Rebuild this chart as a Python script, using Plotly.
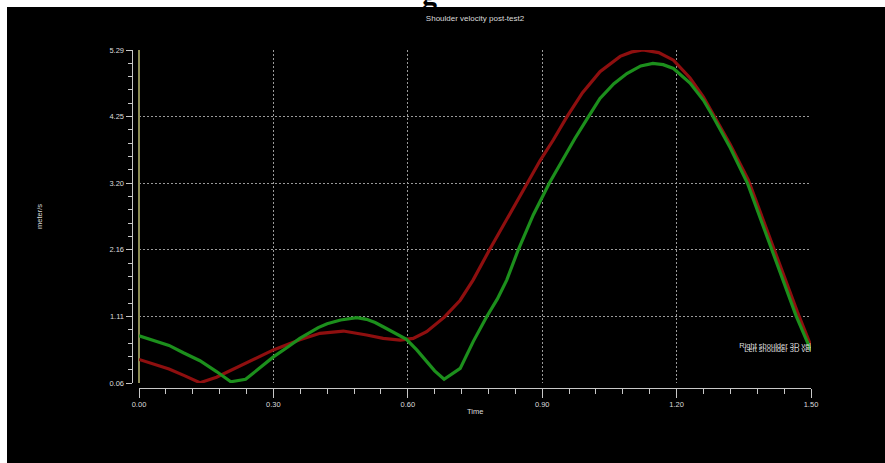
import plotly.graph_objects as go

# Shoulder velocity samples (time in s, speed in m/s)
right_t = [0.000, 0.033, 0.067, 0.100, 0.136, 0.173, 0.205, 0.240, 0.270, 0.300,
           0.333, 0.359, 0.404, 0.456, 0.508, 0.545, 0.583, 0.612, 0.642, 0.681,
           0.717, 0.746, 0.783, 0.825, 0.867, 0.895, 0.925, 0.955, 0.990, 1.029,
           1.074, 1.100, 1.125, 1.160, 1.193, 1.230, 1.260, 1.282, 1.320, 1.360,
           1.387, 1.415, 1.443, 1.470, 1.500]
right_v = [0.43, 0.36, 0.28, 0.18, 0.065, 0.15, 0.26, 0.37, 0.48, 0.58,
           0.67, 0.74, 0.84, 0.876, 0.814, 0.76, 0.735, 0.76, 0.866, 1.09,
           1.36, 1.68, 2.16, 2.68, 3.20, 3.55, 3.88, 4.24, 4.62, 4.95,
           5.19, 5.26, 5.29, 5.25, 5.13, 4.85, 4.55, 4.27, 3.80, 3.25,
           2.74, 2.22, 1.69, 1.17, 0.64]

left_t = [0.000, 0.033, 0.067, 0.099, 0.136, 0.173, 0.205, 0.238, 0.270, 0.300,
          0.333, 0.359, 0.400, 0.420, 0.450, 0.486, 0.508, 0.527, 0.545, 0.565,
          0.583, 0.597, 0.620, 0.642, 0.660, 0.681, 0.717, 0.746, 0.776, 0.800,
          0.821, 0.847, 0.880, 0.916, 0.947, 0.973, 1.003, 1.029, 1.060, 1.089,
          1.120, 1.147, 1.170, 1.193, 1.230, 1.260, 1.281, 1.320, 1.358, 1.385,
          1.412, 1.440, 1.467, 1.500]
left_v = [0.80, 0.73, 0.65, 0.535, 0.41, 0.24, 0.08, 0.118, 0.30, 0.47,
          0.63, 0.76, 0.93, 0.99, 1.05, 1.085, 1.06, 1.01, 0.944, 0.87,
          0.81, 0.746, 0.58, 0.39, 0.25, 0.118, 0.29, 0.71, 1.10, 1.38,
          1.68, 2.16, 2.70, 3.20, 3.59, 3.90, 4.24, 4.53, 4.76, 4.92,
          5.04, 5.08, 5.06, 5.00, 4.77, 4.50, 4.25, 3.75, 3.20, 2.68,
          2.16, 1.63, 1.11, 0.57]

series_names = ["Right shoulder 3D vel", "Left shoulder 3D vel"]
series_colors = ["#8e0f0f", "#1c8f1c"]

x_ticks = [0.00, 0.30, 0.60, 0.90, 1.20, 1.50]
x_tick_text = ["0.00", "0.30", "0.60", "0.90", "1.20", "1.50"]
y_ticks = [0.06, 1.11, 2.16, 3.20, 4.25, 5.29]
y_tick_text = ["0.06", "1.11", "2.16", "3.20", "4.25", "5.29"]

W, H = 885, 463
ML, MR, MT, MB = 100, 40, 40, 60
PW, PH = W - ML - MR, H - MT - MB


def fx(px):
    return (px - ML) / PW


def fy(py):
    return (H - MB - py) / PH


FONT = "Liberation Sans"
TXT = "#dcdcdc"
GRID = "#9a9a9a"

fig = go.Figure()
for t, v, name, col in [(right_t, right_v, series_names[0], series_colors[0]),
                        (left_t, left_v, series_names[1], series_colors[1])]:
    fig.add_trace(go.Scatter(x=t, y=v, mode="lines", name=name,
                             line=dict(color=col, width=3.2)))
# end-of-line labels
for t, v, name in [(right_t, right_v, series_names[0]),
                   (left_t, left_v, series_names[1])]:
    fig.add_trace(go.Scatter(x=[t[-1]], y=[v[-1]], mode="text", text=[name],
                             textposition="middle left", cliponaxis=True,
                             textfont=dict(family=FONT, size=7.5, color=TXT),
                             showlegend=False, hoverinfo="skip"))

axis_common = dict(
    showline=True, linecolor="#c8c8c8", linewidth=1,
    ticks="outside", tickcolor="#c8c8c8", tickwidth=1,
    tickfont=dict(family=FONT, size=7.5, color=TXT),
    showgrid=True, gridcolor=GRID, gridwidth=1, griddash="2px,2px",
    anchor="free",
)

# white strip along the top and left edges of the page
edge = dict(type="rect", xref="paper", yref="paper", layer="below",
            fillcolor="white", line=dict(width=0))

fig.update_layout(
    width=W, height=H,
    margin=dict(l=ML, r=MR, t=MT, b=MB),
    paper_bgcolor="black", plot_bgcolor="black",
    showlegend=False,
    title=dict(text="Shoulder velocity post-test2", xref="paper", yref="container",
               x=fx(475), y=1 - 18 / H, xanchor="center", yanchor="middle",
               font=dict(family=FONT, size=8, color=TXT)),
    xaxis=dict(axis_common, range=[0, 1.5], domain=[fx(139), fx(811)],
               position=fy(387.7), tickvals=x_ticks, ticktext=x_tick_text,
               ticklen=9, zeroline=True, zerolinecolor="#8c8c55", zerolinewidth=1.5,
               minor=dict(ticks="outside", dtick=0.06, tick0=0, ticklen=5,
                          tickcolor="#c8c8c8", showgrid=False)),
    yaxis=dict(axis_common, range=[0.06, 5.29], domain=[fy(383), fy(50)],
               position=fx(131.5), tickvals=y_ticks, ticktext=y_tick_text,
               ticklen=6, zeroline=False,
               minor=dict(ticks="outside", dtick=(5.29 - 0.06) / 25, tick0=0.06,
                          ticklen=3.5, tickcolor="#c8c8c8", showgrid=False)),
    shapes=[
        dict(edge, x0=fx(-5), x1=fx(W + 5), y0=fy(7), y1=fy(-5)),
        dict(edge, x0=fx(-5), x1=fx(7), y0=fy(H + 5), y1=fy(-5)),
    ],
    annotations=[
        dict(text="Time", xref="paper", yref="paper", x=fx(475), y=fy(411),
             showarrow=False, xanchor="center", yanchor="middle",
             font=dict(family=FONT, size=7.5, color=TXT)),
        dict(text="meter/s", xref="paper", yref="paper", x=fx(39), y=fy(217),
             showarrow=False, textangle=-90, xanchor="center", yanchor="middle",
             font=dict(family=FONT, size=7.5, color=TXT)),
        dict(text="<b>g</b>", xref="paper", yref="paper", x=fx(429), y=fy(13),
             showarrow=False, xanchor="center", yanchor="bottom",
             font=dict(family="Liberation Serif", size=30, color="black")),
    ],
)

# keep the page itself flush with the figure (no scrollbars, no body margin)
fig.write_html(
    "out.html",
    post_script="document.body.style.margin='0';"
                "document.body.style.overflow='hidden';"
                "document.documentElement.style.overflow='hidden';"
                "document.body.style.background='black';",
)
